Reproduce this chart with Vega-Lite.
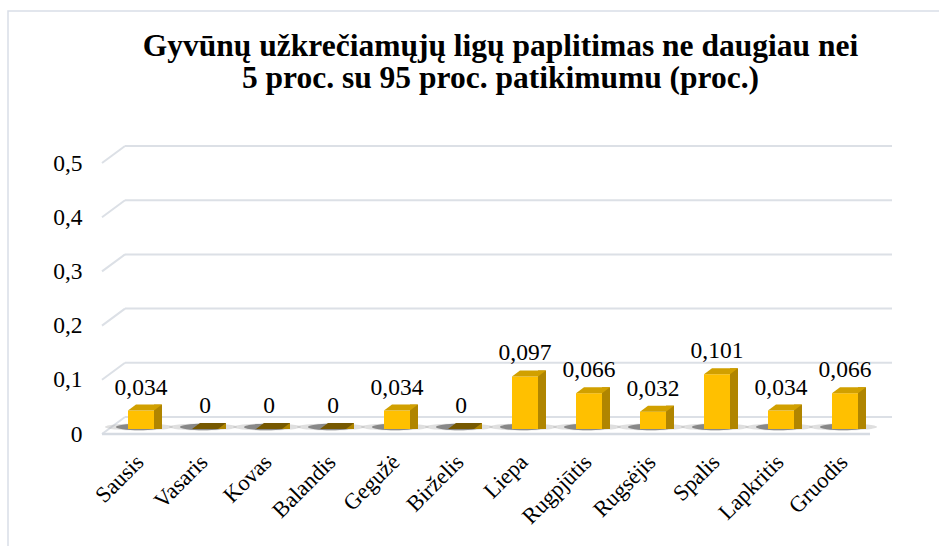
{
  "$schema": "https://vega.github.io/schema/vega-lite/v6.json",
  "width": 941,
  "height": 545,
  "autosize": {"type": "none"},
  "padding": {"left": 8, "top": 11, "right": -10, "bottom": -10},
  "background": "#FFFFFF",
  "config": {
    "view": {"stroke": "#D9DEE7", "strokeWidth": 1.5},
    "locale": {"number": {"decimal": ",", "thousands": " ", "grouping": [3], "currency": ["", " €"]}},
    "font": "Liberation Serif",
    "axis": {"labelFont": "Liberation Serif", "labelColor": "#000000", "domain": false, "ticks": false, "grid": false, "title": null}
  },
  "title": {
    "text": ["Gyvūnų užkrečiamųjų ligų paplitimas ne daugiau nei", "5 proc. su 95 proc. patikimumu (proc.)"],
    "font": "Liberation Serif",
    "fontSize": 31.5,
    "fontWeight": "bold",
    "color": "#000000",
    "lineHeight": 32,
    "anchor": "middle",
    "frame": "group",
    "baseline": "top",
    "offset": -83,
    "dx": 22
  },
  "datasets": {
    "months": [
      {"m": "Sausis", "v": 0.034},
      {"m": "Vasaris", "v": 0},
      {"m": "Kovas", "v": 0},
      {"m": "Balandis", "v": 0},
      {"m": "Gegužė", "v": 0.034},
      {"m": "Birželis", "v": 0},
      {"m": "Liepa", "v": 0.097},
      {"m": "Rugpjūtis", "v": 0.066},
      {"m": "Rugsėjis", "v": 0.032},
      {"m": "Spalis", "v": 0.101},
      {"m": "Lapkritis", "v": 0.034},
      {"m": "Gruodis", "v": 0.066}
    ],
    "ticks": [{"v": 0}, {"v": 0.1}, {"v": 0.2}, {"v": 0.3}, {"v": 0.4}, {"v": 0.5}]
  },
  "layer": [
    {
      "data": {"name": "months"},
      "mark": {"type": "bar", "width": 26, "color": "#FFC000", "xOffset": 7, "yOffset": -5, "y2Offset": -5, "opacity": 0},
      "encoding": {
        "x": {"field": "m", "type": "nominal", "sort": null,
              "scale": {"type": "band", "domain": ["Sausis", "Vasaris", "Kovas", "Balandis", "Gegužė", "Birželis", "Liepa", "Rugpjūtis", "Rugsėjis", "Spalis", "Lapkritis", "Gruodis"], "range": [94, 862], "paddingInner": 0, "paddingOuter": 0},
              "axis": {"orient": "bottom", "offset": -122, "labelAngle": -45, "labelAlign": "right", "labelBaseline": "middle", "labelPadding": 24, "labelOffset": 6, "labelFontSize": 22.5}},
        "y": {"field": "v", "type": "quantitative",
              "scale": {"domain": [0, 0.5], "range": [423, 152], "nice": false},
              "axis": {"orient": "left", "offset": -94, "values": [0, 0.1, 0.2, 0.3, 0.4, 0.5], "format": ".1~f", "labelPadding": 20, "labelFontSize": 23.5}},
        "y2": {"datum": 0}
      }
    },
    {
      "data": {"name": "ticks"},
      "mark": {"type": "rule", "color": "#DCE0E6", "strokeWidth": 2, "xOffset": -9, "x2Offset": 54, "yOffset": -17},
      "encoding": {
        "x": {"datum": "Sausis", "type": "nominal"},
        "x2": {"datum": "Gruodis"},
        "y": {"field": "v", "type": "quantitative"}
      }
    },
    {
      "data": {"name": "ticks"},
      "mark": {"type": "point", "shape": "M0,0L1,-0.74", "size": 2116, "filled": false, "strokeWidth": 2, "color": "#DCE0E6", "opacity": 1, "xOffset": -32},
      "encoding": {
        "x": {"datum": "Sausis", "type": "nominal"},
        "y": {"field": "v", "type": "quantitative"}
      }
    },
    {
      "data": {"values": [{"v": 0}]},
      "mark": {"type": "rule", "color": "#D6DBE2", "strokeWidth": 2.5, "xOffset": -32, "x2Offset": 32},
      "encoding": {
        "x": {"datum": "Sausis", "type": "nominal"},
        "x2": {"datum": "Gruodis"},
        "y": {"field": "v", "type": "quantitative"}
      }
    },
    {
      "data": {"name": "months"},
      "mark": {"type": "point", "shape": "M-1,0A1,0.1,0,1,0,1,0A1,0.1,0,1,0,-1,0Z", "size": 4624, "filled": true, "color": "#B0B0B0", "opacity": 0.4, "strokeWidth": 0, "xOffset": 5, "yOffset": -7},
      "encoding": {
        "x": {"field": "m", "type": "nominal", "sort": null},
        "y": {"datum": 0, "type": "quantitative"}
      }
    },
    {
      "data": {"name": "months"},
      "mark": {"type": "point", "shape": "M-1,0A1,0.14,0,1,0,1,0A1,0.14,0,1,0,-1,0Z", "size": 2116, "filled": true, "color": "#404040", "opacity": 0.55, "strokeWidth": 0, "xOffset": 5, "yOffset": -7},
      "encoding": {
        "x": {"field": "m", "type": "nominal", "sort": null},
        "y": {"datum": 0, "type": "quantitative"}
      }
    },
    {
      "data": {"name": "months"},
      "mark": {"type": "bar", "width": 8, "color": "#B08500", "xOffset": 24, "yOffset": -11, "y2Offset": -5},
      "encoding": {
        "x": {"field": "m", "type": "nominal", "sort": null},
        "y": {"field": "v", "type": "quantitative"},
        "y2": {"datum": 0}
      }
    },
    {
      "data": {"name": "months"},
      "mark": {"type": "bar", "width": 26, "color": "#FFC000", "xOffset": 7, "yOffset": -5, "y2Offset": -5},
      "encoding": {
        "x": {"field": "m", "type": "nominal", "sort": null},
        "y": {"field": "v", "type": "quantitative"},
        "y2": {"datum": 0}
      }
    },
    {
      "data": {"name": "months"},
      "mark": {"type": "point", "shape": "M-0.765,0L0.765,0L1.235,-0.353L-0.294,-0.353Z", "size": 1156, "filled": true, "opacity": 1, "strokeWidth": 0, "xOffset": 7, "yOffset": -5},
      "encoding": {
        "x": {"field": "m", "type": "nominal", "sort": null},
        "y": {"field": "v", "type": "quantitative"},
        "color": {"condition": {"test": "datum.v === 0", "value": "#765800"}, "value": "#D1A000"}
      }
    },
    {
      "data": {"name": "months"},
      "mark": {"type": "text", "fontSize": 23.5, "font": "Liberation Serif", "color": "#000000", "baseline": "alphabetic", "align": "center", "xOffset": 7, "yOffset": -21},
      "encoding": {
        "x": {"field": "m", "type": "nominal", "sort": null},
        "y": {"field": "v", "type": "quantitative"},
        "text": {"field": "v", "type": "quantitative", "format": ".3~f"}
      }
    }
  ]
}
